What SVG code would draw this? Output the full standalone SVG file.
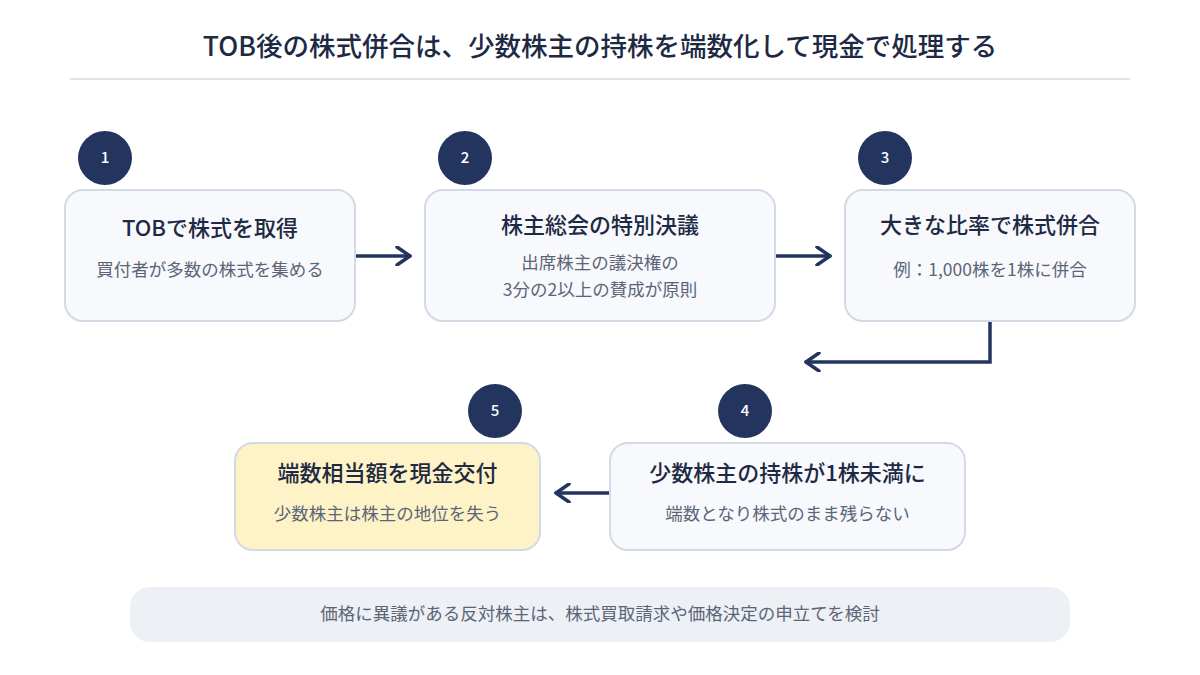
<svg xmlns="http://www.w3.org/2000/svg" width="1200" height="675" viewBox="0 0 1200 675">
<defs>
<style>
text{font-family:"Noto Sans CJK JP","Noto Sans",sans-serif;}
.title{font-size:26.5px;font-weight:500;fill:#1e2a44;text-anchor:middle;}
.box{fill:#f7f9fc;stroke:#d2dae6;stroke-width:2;}
.hl{fill:#fef3c6;stroke:#d2dae6;stroke-width:2;}
.h{font-size:22px;font-weight:500;fill:#1e2a44;text-anchor:middle;}
.s{font-size:17.5px;fill:#5c6578;text-anchor:middle;}
.badge{fill:#23355e;}
.num{font-size:15px;fill:#ffffff;text-anchor:middle;font-weight:500;}
.conn{fill:none;stroke:#23355e;stroke-width:3.5;stroke-linecap:round;stroke-linejoin:miter;}
</style>
<marker id="arr" viewBox="0 0 20 20" refX="18" refY="10" markerWidth="20" markerHeight="20" markerUnits="userSpaceOnUse" orient="auto">
<path d="M5,1 L18,10 L5,19" fill="none" stroke="#23355e" stroke-width="3.5" stroke-linecap="round" stroke-linejoin="round"/>
</marker>
</defs>
<rect width="1200" height="675" fill="#ffffff"/>
<text class="title" x="600" y="56">TOB後の株式併合は、少数株主の持株を端数化して現金で処理する</text>
<line x1="70" y1="79" x2="1130" y2="79" stroke="#d5dbe4" stroke-width="1.5"/>

<g id="connectors">
<path class="conn" d="M356,256 L410,256" marker-end="url(#arr)"/>
<path class="conn" d="M776,256 L830,256" marker-end="url(#arr)"/>
<path class="conn" d="M990,322 L990,362 L806,362" marker-end="url(#arr)"/>
<path class="conn" d="M610,493 L556,493" marker-end="url(#arr)"/>
</g>

<g id="node1">
<rect class="box" x="65" y="190" width="290" height="131" rx="18"/>
<text class="h" x="210" y="236">TOBで株式を取得</text>
<text class="s" x="210" y="276">買付者が多数の株式を集める</text>
<circle class="badge" cx="105" cy="158" r="27"/>
<text class="num" x="105" y="163">1</text>
</g>

<g id="node2">
<rect class="box" x="425" y="190" width="350" height="131" rx="18"/>
<text class="h" x="600" y="233">株主総会の特別決議</text>
<text class="s" x="600" y="269">出席株主の議決権の</text>
<text class="s" x="600" y="296">3分の2以上の賛成が原則</text>
<circle class="badge" cx="465" cy="158" r="27"/>
<text class="num" x="465" y="163">2</text>
</g>

<g id="node3">
<rect class="box" x="845" y="190" width="290" height="131" rx="18"/>
<text class="h" x="990" y="233">大きな比率で株式併合</text>
<text class="s" x="990" y="276">例：1,000株を1株に併合</text>
<circle class="badge" cx="885" cy="158" r="27"/>
<text class="num" x="885" y="163">3</text>
</g>

<g id="node4">
<rect class="box" x="610" y="443" width="355" height="107" rx="18"/>
<text class="h" x="787.5" y="481">少数株主の持株が1株未満に</text>
<text class="s" x="787.5" y="520">端数となり株式のまま残らない</text>
<circle class="badge" cx="745" cy="411" r="27"/>
<text class="num" x="745" y="416">4</text>
</g>

<g id="node5">
<rect class="hl" x="235" y="443" width="305" height="107" rx="18"/>
<text class="h" x="387.5" y="481">端数相当額を現金交付</text>
<text class="s" x="387.5" y="520">少数株主は株主の地位を失う</text>
<circle class="badge" cx="495" cy="411" r="27"/>
<text class="num" x="495" y="416">5</text>
</g>

<g id="footer">
<rect x="130" y="587" width="940" height="55" rx="20" fill="#edf0f5"/>
<text class="s" x="600" y="620">価格に異議がある反対株主は、株式買取請求や価格決定の申立てを検討</text>
</g>
</svg>
